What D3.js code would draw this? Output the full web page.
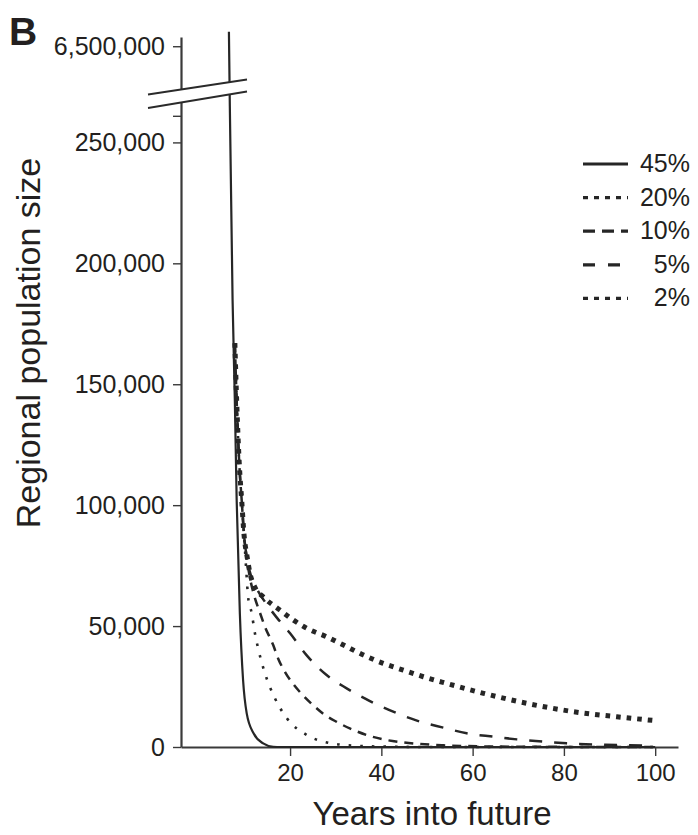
<!DOCTYPE html>
<html>
<head>
<meta charset="utf-8">
<script src="https://cdn.jsdelivr.net/npm/d3@7"></script>
<style>
  html, body { margin: 0; padding: 0; background: #ffffff; }
  svg { display: block; font-family: "Liberation Sans", Arial, Helvetica, sans-serif; }
</style>
</head>
<body>
<svg id="chart" width="698" height="835"></svg>
<script>
// ---------------- data ----------------
const seriesLabels = ["45%", "20%", "10%", "5%", "2%"];

const years45 = [6.6, 6.8, 7.4, 7.9, 8.3, 9.0, 9.7, 10.5, 12.0, 14.1, 16.3, 18, 100];
const pop45   = [6600000, 265000, 185000, 143000, 102000, 55000, 27700, 13900, 5650, 1500, 100, 0, 0];

const years20 = [7.9, 8.3, 8.9, 9.4, 9.9, 10.4, 10.8, 11.6, 12.3, 13.0, 14.5, 16.7, 19.3, 23.7, 29.1, 34.6, 42, 50, 100];
const pop20   = [167000, 143000, 116000, 102000, 88000, 73000, 62100, 55250, 47000, 40800, 30450, 20100, 11850, 4950, 1500, 500, 120, 0, 0];

const years10 = [7.9, 8.3, 8.9, 9.4, 9.9, 10.6, 11.2, 12.0, 13.4, 14.5, 16.3, 17.4, 18.9, 20.7, 22.6, 25.1, 27.3, 30.2, 33.2, 36.8, 40.4, 44.8, 53.6, 65, 80, 100];
const pop10   = [167000, 143000, 116000, 102000, 88000, 77000, 70000, 63500, 55500, 49700, 42150, 36500, 31000, 26000, 21800, 17200, 13700, 10400, 7600, 4950, 3150, 1900, 700, 200, 50, 0];

const years5  = [7.9, 8.3, 8.9, 9.4, 9.9, 10.6, 11.4, 12.7, 14.5, 17.1, 20.0, 23.6, 28.0, 32.4, 37.5, 42.6, 47.8, 53.6, 58.7, 64.6, 69.7, 75.5, 80.6, 91.6, 99.5];
const pop5    = [167000, 143000, 116000, 102000, 88000, 77500, 71000, 65500, 60000, 53500, 47000, 38000, 29750, 24250, 19000, 14600, 10900, 8000, 5650, 4250, 3150, 2200, 1500, 800, 500];

const years2  = [7.9, 8.3, 8.9, 9.4, 9.9, 10.6, 11.2, 12.3, 14.1, 17.8, 20.7, 23.7, 28.0, 31.7, 36.1, 40.4, 44.8, 49.2, 54.3, 62.4, 71.9, 82.1, 91.6, 99.5];
const pop2    = [167000, 143000, 116000, 102000, 88000, 78500, 72000, 66000, 62100, 56600, 52500, 49050, 45600, 42150, 38000, 34600, 31800, 29050, 26300, 22200, 18050, 14600, 12500, 11000];

const xTicks = [20, 40, 60, 80, 100];
const yTicks = [0, 50000, 100000, 150000, 200000, 250000, 261000, 6500000];
const yTickLabels = ["0", "50,000", "100,000", "150,000", "200,000", "250,000", "", "6,500,000"];

const panelLabel = "B";
const xTitle = "Years into future";
const yTitle = "Regional population size";

// ---------------- layout ----------------
const svg = d3.select("#chart");
const ink = "#231f20";
const axisInk = "#3a3a3a";

const x = d3.scaleLinear().domain([-3.9, 105]).range([181, 678]);
// broken (polylinear) y scale: lower part 0..266,500, upper part 6.2M..6.564M
const y = d3.scaleLinear()
  .domain([0, 266500, 6200000, 6564000])
  .range([747, 102.5, 89.5, 37]);

const series = [
  { label: "2%",  years: years2,  pop: pop2,  dash: "4.6,6",  width: 5.0, lDash: "5,6",   lWidth: 3.4 },
  { label: "5%",  years: years5,  pop: pop5,  dash: "13,12",  width: 2.5, lDash: "12,13", lWidth: 3.2 },
  { label: "10%", years: years10, pop: pop10, dash: "9,7",    width: 2.5, lDash: "12,7",  lWidth: 3.2 },
  { label: "20%", years: years20, pop: pop20, dash: "2.6,9",  width: 2.6, lDash: "5,6",   lWidth: 3.2 },
  { label: "45%", years: years45, pop: pop45, dash: null,     width: 2.2, lDash: null,    lWidth: 3.2 }
];

// ---------------- axes ----------------
const xAxis = d3.axisBottom(x).tickValues(xTicks).tickSize(9).tickSizeOuter(0).tickPadding(8);
const gx = svg.append("g").attr("transform", "translate(0,747)").call(xAxis);
gx.select(".domain").attr("stroke", axisInk).attr("stroke-width", 2.2);
gx.selectAll(".tick line").attr("stroke", axisInk).attr("stroke-width", 1.4);
gx.selectAll(".tick text").attr("fill", ink).attr("font-size", 24)
  .attr("font-family", "'Liberation Sans', Arial, sans-serif");

const yAxis = d3.axisLeft(y).tickValues(yTicks).tickSize(8).tickSizeOuter(0).tickPadding(8)
  .tickFormat((d, i) => yTickLabels[i]);
const gy = svg.append("g").attr("transform", "translate(181,0)").call(yAxis);
gy.select(".domain").attr("stroke", axisInk).attr("stroke-width", 2.2);
gy.selectAll(".tick line").attr("stroke", axisInk).attr("stroke-width", 1.4);
gy.selectAll(".tick text").attr("fill", ink).attr("font-size", 25)
  .attr("font-family", "'Liberation Sans', Arial, sans-serif");

// ---------------- lines ----------------
const line = d3.line()
  .x(d => x(d[0]))
  .y(d => y(d[1]))
  .curve(d3.curveMonotoneX);

svg.append("g").selectAll("path.series")
  .data(series)
  .join("path")
  .attr("class", "series")
  .attr("d", s => line(s.years.map((yr, i) => [yr, s.pop[i]])))
  .attr("fill", "none")
  .attr("stroke", "#262626")
  .attr("stroke-width", s => s.width)
  .attr("stroke-dasharray", s => s.dash);

// ---------------- axis break ----------------
const bx0 = 148, bx1 = 247;
const upper = [[bx0, 94.5], [bx1, 79.5]];
const lower = [[bx0, 108], [bx1, 91.5]];
svg.append("path")
  .attr("d", `M${upper[0]}L${upper[1]}L${lower[1]}L${lower[0]}Z`)
  .attr("fill", "#ffffff").attr("stroke", "none");
[upper, lower].forEach(seg => {
  svg.append("line")
    .attr("x1", seg[0][0]).attr("y1", seg[0][1])
    .attr("x2", seg[1][0]).attr("y2", seg[1][1])
    .attr("stroke", "#2a2a2a").attr("stroke-width", 1.8);
});

// ---------------- legend ----------------
const legendOrder = ["45%", "20%", "10%", "5%", "2%"];
const lg = svg.append("g");
legendOrder.forEach((lab, i) => {
  const s = series.find(d => d.label === lab);
  const base = 172 + i * 33.6;
  lg.append("line")
    .attr("x1", 583).attr("x2", 628)
    .attr("y1", base - 8).attr("y2", base - 8)
    .attr("stroke", "#262626")
    .attr("stroke-width", s.lWidth)
    .attr("stroke-dasharray", s.lDash);
  lg.append("text")
    .attr("x", 690).attr("y", base)
    .attr("text-anchor", "end")
    .attr("font-size", 25)
    .attr("fill", ink)
    .text(lab);
});

// ---------------- titles ----------------
svg.append("text")
  .attr("x", 432).attr("y", 825)
  .attr("text-anchor", "middle")
  .attr("font-size", 33)
  .attr("fill", ink)
  .text(xTitle);

svg.append("text")
  .attr("transform", "translate(40,343) rotate(-90)")
  .attr("text-anchor", "middle")
  .attr("font-size", 34)
  .attr("fill", ink)
  .text(yTitle);

svg.append("text")
  .attr("x", 9).attr("y", 45)
  .attr("font-size", 39)
  .attr("font-weight", "bold")
  .attr("fill", ink)
  .text(panelLabel);
</script>
</body>
</html>
